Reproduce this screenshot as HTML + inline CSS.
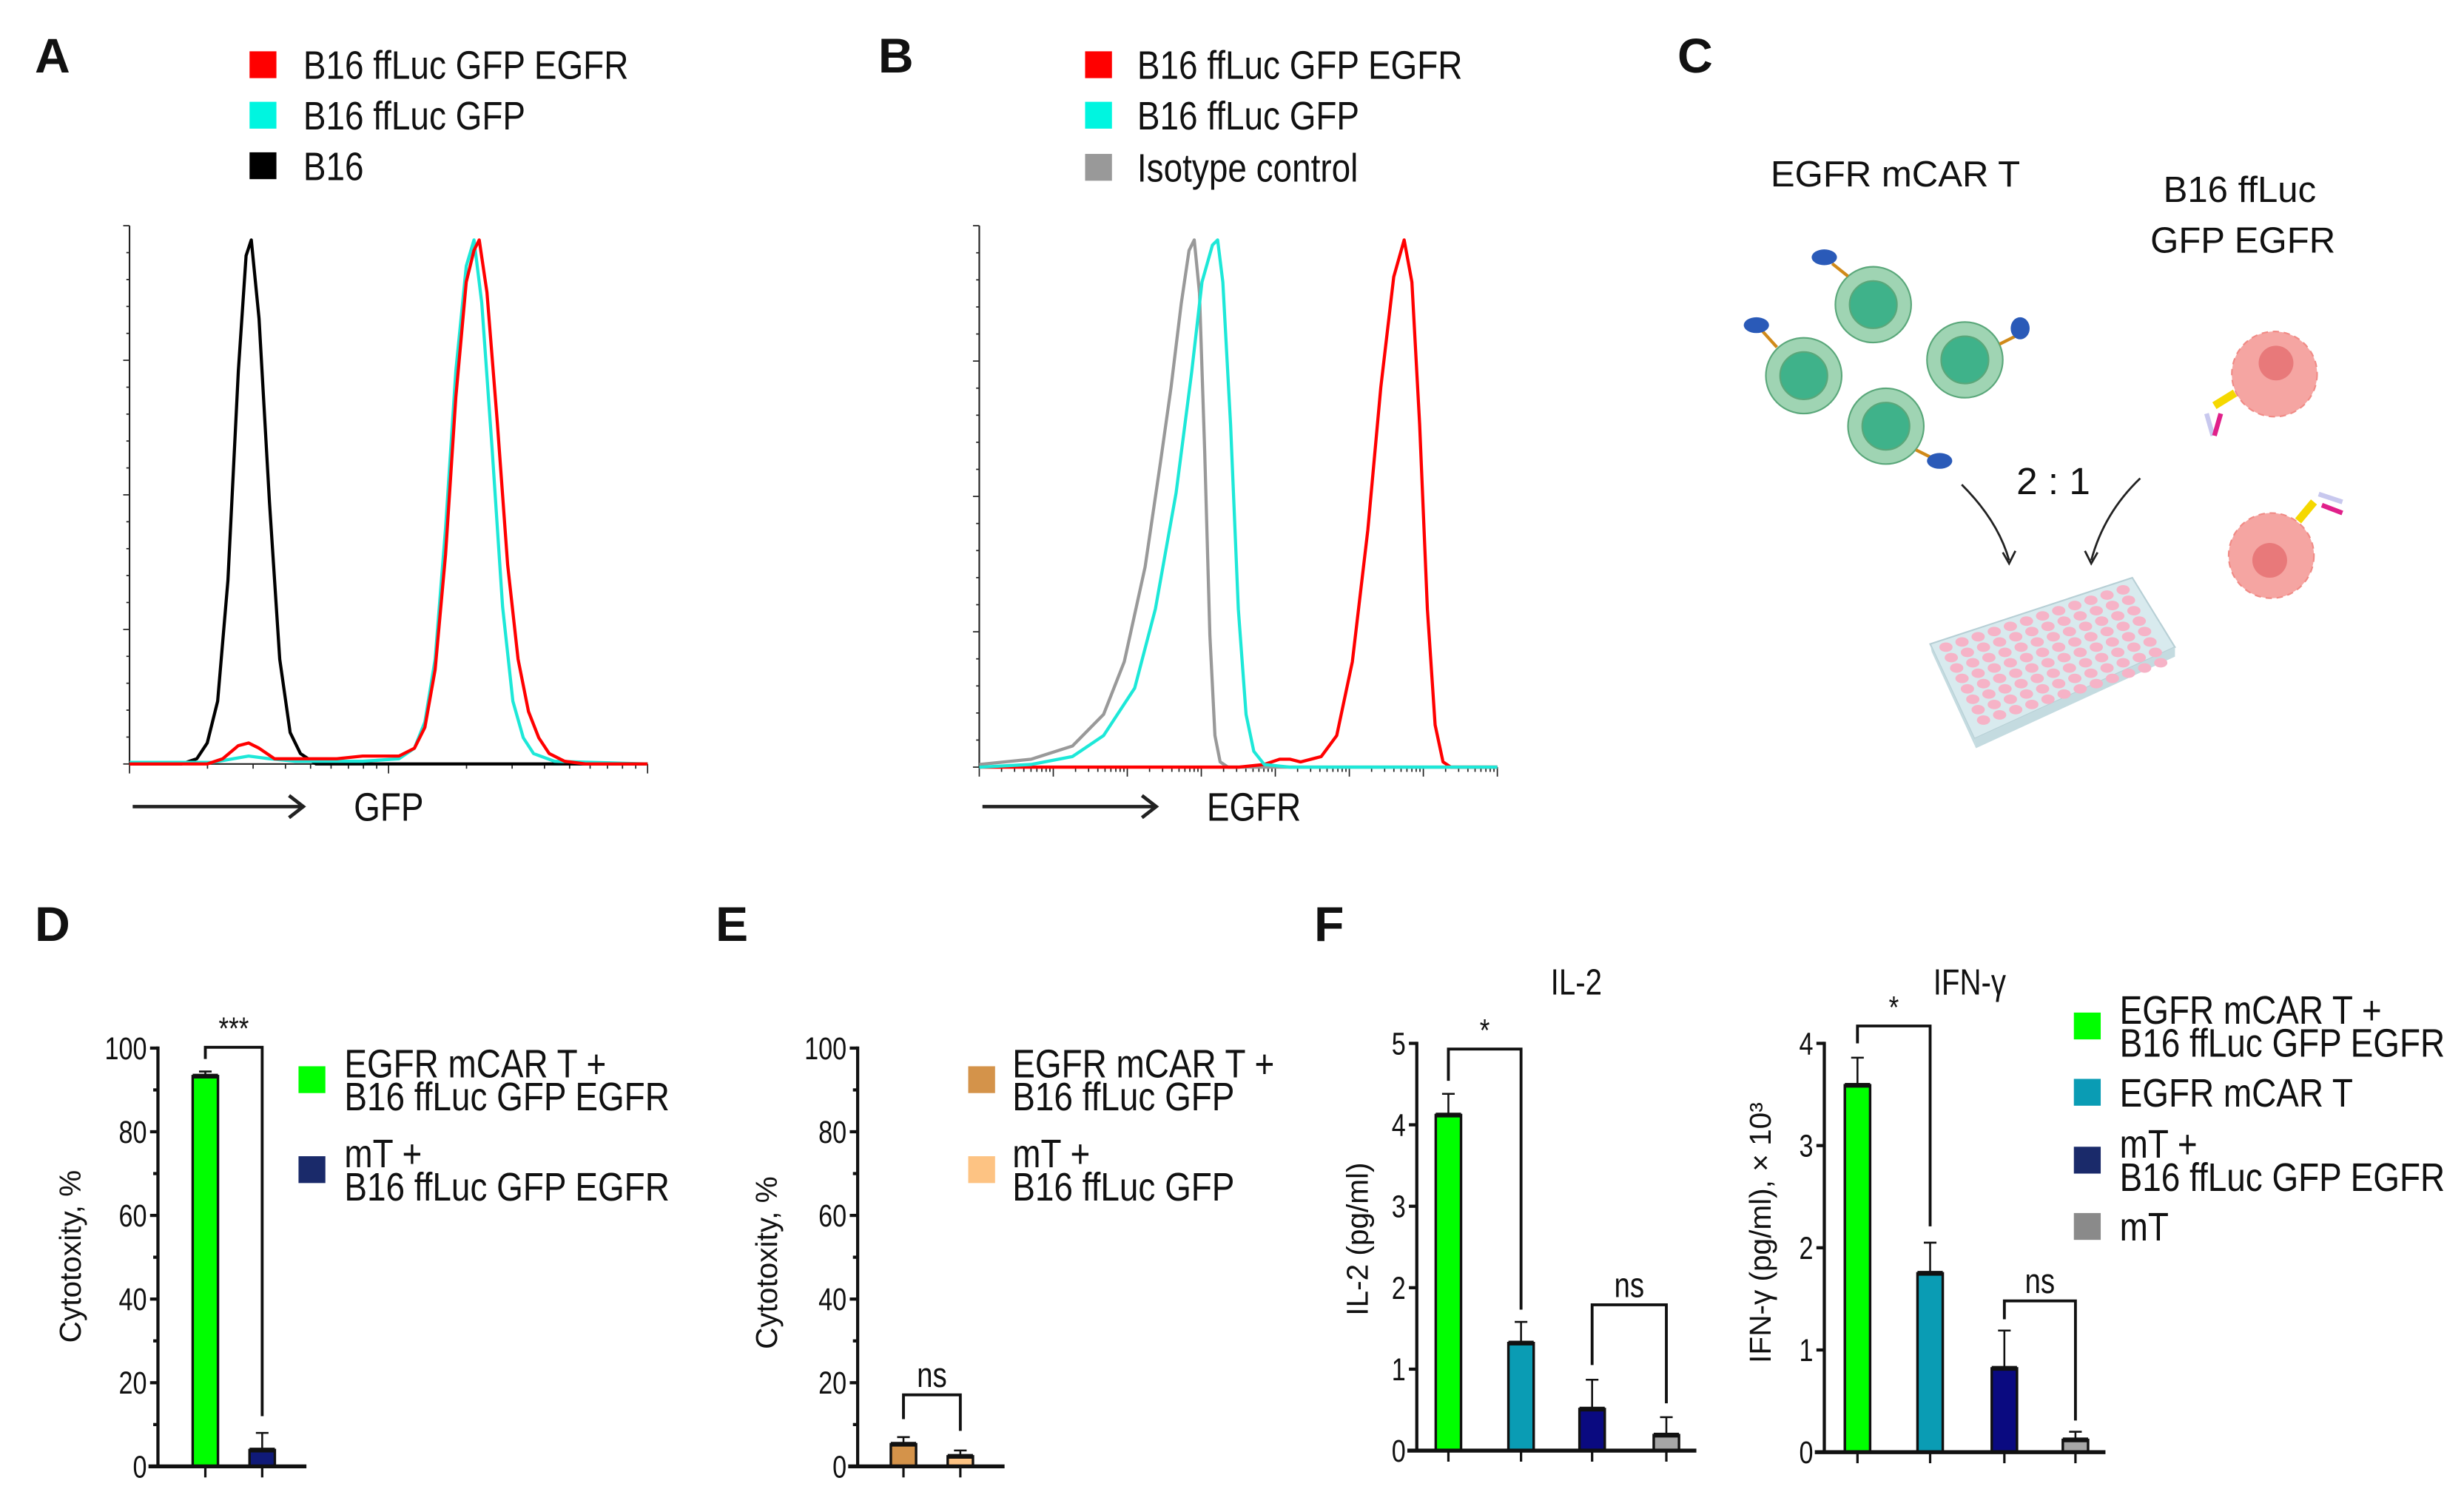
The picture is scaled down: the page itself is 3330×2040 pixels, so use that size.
<!DOCTYPE html>
<html><head><meta charset="utf-8"><style>
html,body{margin:0;padding:0;background:#fff;}
svg{display:block;}
text{font-family:"Liberation Sans",sans-serif;fill:#111;}
.lbl{font-weight:bold;font-size:31px;}
</style></head><body>
<svg id="fig" width="3330" height="2040" viewBox="0 0 1560 956" preserveAspectRatio="none" xmlns="http://www.w3.org/2000/svg">
<rect width="1560" height="956" fill="#fff"/>
<text class="lbl" x="22" y="46">A</text>
<text class="lbl" x="556" y="46">B</text>
<text class="lbl" x="1062" y="46">C</text>
<text class="lbl" x="22" y="596">D</text>
<text class="lbl" x="453" y="596">E</text>
<text class="lbl" x="832" y="596">F</text>

<g id="panelC">
  <text x="1200" y="118" text-anchor="middle" font-size="23">EGFR mCAR T</text>
  <text x="1418" y="128" text-anchor="middle" font-size="23">B16 ffLuc</text>
  <text x="1420" y="160" text-anchor="middle" font-size="23">GFP EGFR</text>
  <text x="1300" y="313" text-anchor="middle" font-size="24">2 : 1</text>
  <g stroke="#5aa77a" stroke-width="1">
    <circle cx="1186" cy="193" r="24" fill="#9fd4b3"/><circle cx="1186" cy="193" r="15" fill="#3fb28a"/>
    <circle cx="1142" cy="238" r="24" fill="#9fd4b3"/><circle cx="1142" cy="238" r="15" fill="#3fb28a"/>
    <circle cx="1244" cy="228" r="24" fill="#9fd4b3"/><circle cx="1244" cy="228" r="15" fill="#3fb28a"/>
    <circle cx="1194" cy="270" r="24" fill="#9fd4b3"/><circle cx="1194" cy="270" r="15" fill="#3fb28a"/>
  </g>
  <g stroke-width="2">
    <line x1="1170" y1="175" x2="1160" y2="167" stroke="#d08a1a"/><ellipse cx="1155" cy="163" rx="8" ry="5" fill="#2a5ab8"/>
    <line x1="1125" y1="220" x2="1116" y2="210" stroke="#d08a1a"/><ellipse cx="1112" cy="206" rx="8" ry="5" fill="#2a5ab8"/>
    <line x1="1266" y1="218" x2="1276" y2="213" stroke="#d08a1a"/><ellipse cx="1279" cy="208" rx="6" ry="7" fill="#2a5ab8"/>
    <line x1="1213" y1="285" x2="1223" y2="290" stroke="#d08a1a"/><ellipse cx="1228" cy="292" rx="8" ry="5" fill="#2a5ab8"/>
  </g>
  <g>
    <circle cx="1440" cy="237" r="27" fill="#f5a5a2" stroke="#f08a85" stroke-dasharray="4 3"/><circle cx="1441" cy="230" r="11" fill="#e8797a"/>
    <line x1="1415" y1="249" x2="1402" y2="257" stroke="#f5d800" stroke-width="5"/><line x1="1397" y1="262" x2="1401" y2="276" stroke="#c8c8ee" stroke-width="3"/><line x1="1406" y1="262" x2="1402" y2="276" stroke="#e0208a" stroke-width="3"/>
    <circle cx="1438" cy="352" r="27" fill="#f5a5a2" stroke="#f08a85" stroke-dasharray="4 3"/><circle cx="1437" cy="355" r="11" fill="#e8797a"/>
    <line x1="1455" y1="330" x2="1465" y2="318" stroke="#f5d800" stroke-width="5"/><line x1="1468" y1="313" x2="1483" y2="318" stroke="#c8c8ee" stroke-width="3"/><line x1="1470" y1="320" x2="1483" y2="325" stroke="#e0208a" stroke-width="3"/>
  </g>
  <g fill="none" stroke="#222" stroke-width="1.3">
    <path d="M1242 307 Q1265 330 1272 355"/><path d="M1268 350 L1272 357 L1276 349"/>
    <path d="M1355 303 Q1332 325 1324 355"/><path d="M1320 349 L1324 357 L1328 350"/>
  </g>
  <g>
    <polygon points="1222,408 1350,366 1377,410 1250,468" fill="#d8eaee" stroke="#b7cfd5"/>
    <polygon points="1222,408 1250,468 1251,474 1223,413" fill="#c4dbe0"/>
    <polygon points="1250,468 1377,410 1377,416 1251,474" fill="#c4dbe0"/>
    <g id="wells" fill="#f6b3c7"></g>
  </g>
</g>

<g id="histA"></g>
<g id="histB"></g>
<g id="barD"></g>
<g id="barE"></g>
<g id="barF1"></g>
<g id="barF2"></g>
<g id="legends"></g>
</svg>
<script>
// ---- Histogram data (channel 0-100, % of max) ----
const histAChannels_black=[0,10,13,15,17,19,21,22.5,23.5,25,27,29,31,33,36,100];
const histAValues_black=[0,0,1,4,12,35,75,97,100,85,50,20,6,2,0,0];
const histAChannels_cyan=[0,16,20,23,27,32,45,52,55,57,59,61,63,65,66.5,68,70,72,74,76,78,82,100];
const histAValues_cyan=[0.3,0.3,1,1.5,1,0.5,0.5,1,3,8,20,45,75,95,100,88,60,30,12,5,2,0.5,0];
const histAChannels_red=[0,15,18,21,23,25,28,40,45,52,55,57,59,61,63,65,66.5,67.5,69,71,73,75,77,79,81,84,88,100];
const histAValues_red=[0,0,1,3.5,4,3,1,1,1.5,1.5,3,7,18,40,70,92,98,100,90,65,38,20,10,5,2,0.5,0,0];
const histBChannels_gray=[0,10,18,24,28,32,35,37,39,40.5,41.5,42.5,43.5,44.5,45.5,46.5,48,100];
const histBValues_gray=[0.5,1.5,4,10,20,38,58,72,88,98,100,90,60,25,6,1,0,0];
const histBChannels_cyan=[0,10,18,24,30,34,38,41,43,45,46,47,48.5,50,51.5,53,55,60,100];
const histBValues_cyan=[0,0.5,2,6,15,30,52,75,92,99,100,92,65,30,10,3,0.5,0,0];
const histBChannels_red=[0,50,55,58,60,62,66,69,72,75,77.5,80,82,83.5,85,86.5,88,89.5,91,100];
const histBValues_red=[0,0,0.5,1.5,1.5,1,2,6,20,45,72,93,100,92,65,30,8,1,0,0];

// ---- Bar chart data ----
const dValues=[93.3,3.9], dErrors=[1.1,4.1];
const eValues=[5.3,2.4], eErrors=[1.7,1.4];
const dTicks=[0,20,40,60,80,100];
const il2Values=[4.12,1.32,0.51,0.19], il2Errors=[0.26,0.26,0.36,0.22];
const il2Ticks=[0,1,2,3,4,5];
const ifnValues=[3.59,1.75,0.82,0.12], ifnErrors=[0.27,0.3,0.37,0.08];
const ifnTicks=[0,1,2,3,4];

const NS='http://www.w3.org/2000/svg';
function mk(parent,tag,attrs,txt){const e=document.createElementNS(NS,tag);for(const k in attrs)e.setAttribute(k,attrs[k]);if(txt!==undefined)e.textContent=txt;parent.appendChild(e);return e;}
function ntext(parent,x,y,str,fs,anchor,sx){return mk(parent,'text',{x:0,y:0,'font-size':fs,'text-anchor':anchor||'start',transform:`translate(${x},${y}) scale(${sx||0.86},1)`},str);}

(function(){const g=document.getElementById('wells');
 for(let r=0;r<8;r++)for(let c=0;c<12;c++){
  const x=1232+c*10.2+r*3.4, y=410-c*3.3+r*6.6;
  const w=mk(g,'ellipse',{cx:x,cy:y,rx:4.2,ry:3});
  
  
 }})();

function histogram(gid,x0,x1,yTop,yBot,series,majorX,labelX,arrowEnd,label){
  const g=document.getElementById(gid);
  const xs=c=>x0+(x1-x0)*c/100;
  const ax=mk(g,'line',{x1:x0,y1:yTop,x2:x0,y2:yBot,stroke:'#222','stroke-width':1});
  
  for(let i=0;i<=20;i++){const y=yTop+(yBot-yTop)*i/20;const l=i%5==0?4:2;
    const t=mk(g,'line',{x1:x0-l,y1:y,x2:x0,y2:y,stroke:'#222','stroke-width':0.8});
    }
  const xa=mk(g,'line',{x1:x0,y1:yBot,x2:x1,y2:yBot,stroke:'#222','stroke-width':1});
  
  const dec=(x1-x0)/majorX;
  for(let d=0;d<majorX;d++){for(let m=1;m<=9;m++){const x=x0+dec*(d+Math.log10(m));const l=m==1?6:3;
    const t=mk(g,'line',{x1:x,y1:yBot,x2:x,y2:yBot+l,stroke:'#222','stroke-width':0.8});
    }}
  const te=mk(g,'line',{x1:x1,y1:yBot,x2:x1,y2:yBot+6,stroke:'#222','stroke-width':0.8});
  
  series.forEach(s=>{
    const pts=s.ch.map((c,i)=>xs(c).toFixed(1)+','+(yBot-s.v[i]/100*(yBot-152)).toFixed(1)).join(' ');
    const p=mk(g,'polyline',{points:pts,fill:'none',stroke:s.col,'stroke-width':2,'stroke-linejoin':'round'});
    
  });
  const ar=mk(g,'path',{d:`M${x0+2} 511 L${arrowEnd} 511 M${arrowEnd-9} 504 L${arrowEnd} 511 L${arrowEnd-9} 518`,fill:'none',stroke:'#222','stroke-width':2.2});
  
  const lt=ntext(g,labelX,520,label,25,'start',0.86);
  
}
histogram('histA',82,410,143,484,[
 {ch:histAChannels_black,v:histAValues_black,col:'#000',name:'curve-b16'},
 {ch:histAChannels_cyan,v:histAValues_cyan,col:'#1de8d8',name:'curve-b16-ffluc-gfp'},
 {ch:histAChannels_red,v:histAValues_red,col:'#f00',name:'curve-b16-ffluc-gfp-egfr'}],2,224,192,'GFP');
histogram('histB',620,948,143,486,[
 {ch:histBChannels_gray,v:histBValues_gray,col:'#999',name:'curve-isotype'},
 {ch:histBChannels_red,v:histBValues_red,col:'#f00',name:'curve-b16-ffluc-gfp-egfr'},
 {ch:histBChannels_cyan,v:histBValues_cyan,col:'#1de8d8',name:'curve-b16-ffluc-gfp'}],7,764,732,'EGFR');

function barChart(gid,o){
  const g=document.getElementById(gid);
  const ys=v=>o.y0-(o.y0-o.y1)*v/o.max;
  o.ticks.forEach(t=>{
    const tk=mk(g,'line',{x1:o.ax-5,y1:ys(t),x2:o.ax,y2:ys(t),stroke:'#111','stroke-width':2});
    
    const tl=ntext(g,o.ax-7,ys(t)+7,String(t),20,'end',0.8);
    
  });
  if(o.minor){for(let i=0;i<o.ticks.length-1;i++){const v=(o.ticks[i]+o.ticks[i+1])/2;
    const mt=mk(g,'line',{x1:o.ax-3,y1:ys(v),x2:o.ax,y2:ys(v),stroke:'#111','stroke-width':2});
    }}
  o.values.forEach((v,i)=>{
    const cx=o.cx[i];
    const eb=mk(g,'path',{d:`M${cx} ${ys(v)} L${cx} ${ys(v+o.err[i])} M${cx-4} ${ys(v+o.err[i])} L${cx+4} ${ys(v+o.err[i])}`,stroke:'#111','stroke-width':1.2,fill:'none'});
    
    const b=mk(g,'rect',{x:cx-8,y:ys(v),width:16,height:o.y0-ys(v),fill:o.colors[i],stroke:'#111','stroke-width':1.6});
    
    const tl=mk(g,'line',{x1:cx-8,y1:ys(v),x2:cx+8,y2:ys(v),stroke:'#111','stroke-width':3});
    
    const xt=mk(g,'line',{x1:cx,y1:o.y0,x2:cx,y2:o.y0+7,stroke:'#111','stroke-width':1.5});
    
  });
  const ya=mk(g,'line',{x1:o.ax,y1:o.y1-1,x2:o.ax,y2:o.y0+1,stroke:'#111','stroke-width':2});
  
  const xa=mk(g,'line',{x1:o.xs,y1:o.y0,x2:o.xe,y2:o.y0,stroke:'#111','stroke-width':2.5});
  
  o.brackets.forEach(br=>{
    const a=o.cx[br.i],b=o.cx[br.j];
    const p=mk(g,'path',{d:`M${a} ${ys(br.l)} L${a} ${ys(br.top)} L${b} ${ys(br.top)} L${b} ${ys(br.r)}`,fill:'none',stroke:'#111','stroke-width':1.8});
    
    const t=ntext(g,(a+b)/2,ys(br.top)-5,br.s,br.s=='ns'?22:20,'middle',0.82);
    
  });
  const yt=mk(g,'text',{x:0,y:0,'text-anchor':'middle','font-size':19,transform:`translate(${o.tx},${o.ty}) rotate(-90)`},o.title);
  
  if(o.head){const h=ntext(g,o.head[1],630,o.head[0],23,'middle',0.82);
    }
}
barChart('barD',{ax:100,y0:929,y1:664,max:100,ticks:dTicks,minor:true,values:dValues,err:dErrors,cx:[130,166],colors:['#00ff00','#101a78'],xs:94,xe:194,
  brackets:[{i:0,j:1,top:100.2,l:97.4,r:12,s:'***'}],title:'Cytotoxity, %',tx:51,ty:796});
barChart('barE',{ax:543,y0:929,y1:664,max:100,ticks:dTicks,minor:true,values:eValues,err:eErrors,cx:[572,608],colors:['#d4934a','#fdc383'],xs:537,xe:636,
  brackets:[{i:0,j:1,top:17.1,l:11.3,r:8.5,s:'ns'}],title:'Cytotoxity, %',tx:492,ty:800});
barChart('barF1',{ax:897,y0:919,y1:661,max:5,ticks:il2Ticks,minor:false,values:il2Values,err:il2Errors,cx:[917,963,1008,1055],colors:['#00ff00','#0a9cb4','#0a0a80','#a6a6a6'],xs:891,xe:1074,
  brackets:[{i:0,j:1,top:4.93,l:4.54,r:1.73,s:'*'},{i:2,j:3,top:1.79,l:1.05,r:0.58,s:'ns'}],title:'IL-2 (pg/ml)',tx:866,ty:785,head:['IL-2',998]});
barChart('barF2',{ax:1155,y0:920,y1:661,max:4,ticks:ifnTicks,minor:false,values:ifnValues,err:ifnErrors,cx:[1176,1222,1269,1314],colors:['#00ff00','#0a9cb4','#0a0a80','#a6a6a6'],xs:1149,xe:1333,
  brackets:[{i:0,j:1,top:4.17,l:4.0,r:2.21,s:'*'},{i:2,j:3,top:1.48,l:1.3,r:0.31,s:'ns'}],title:'IFN-γ (pg/ml), × 10³',tx:1121,ty:781,head:['IFN-γ',1247]});

const L=document.getElementById('legends');
function leg(x,y,col,lines,gap,dy){
  const r=mk(L,'rect',{x:x,y:y-8.5,width:17,height:17,fill:col});
  
  const n=lines.length;
  lines.forEach((t,i)=>{const tt=ntext(L,x+17+gap,y+9+(i-(n-1)/2)*dy,t,25,'start',0.86);
    });
}
leg(158,41,'#ff0000',['B16 ffLuc GFP EGFR'],17,0);
leg(158,73,'#00f5e0',['B16 ffLuc GFP'],17,0);
leg(158,105,'#000000',['B16'],17,0);
leg(687,41,'#ff0000',['B16 ffLuc GFP EGFR'],16,0);
leg(687,73,'#00f5e0',['B16 ffLuc GFP'],16,0);
leg(687,106,'#999999',['Isotype control'],16,0);
leg(189,684,'#00ff00',['EGFR mCAR T +','B16 ffLuc GFP EGFR'],12,21);
leg(189,741,'#1a2a6a',['mT +','B16 ffLuc GFP EGFR'],12,21);
leg(613,684,'#d4934a',['EGFR mCAR T +','B16 ffLuc GFP'],11,21);
leg(613,741,'#fdc383',['mT +','B16 ffLuc GFP'],11,21);
leg(1313,650,'#00ff00',['EGFR mCAR T +','B16 ffLuc GFP EGFR'],12,21);
leg(1313,692,'#0a9cb4',['EGFR mCAR T'],12,0);
leg(1313,735,'#1a2a6a',['mT +','B16 ffLuc GFP EGFR'],12,21);
leg(1313,777,'#8a8a8a',['mT'],12,0);
</script>
</body></html>
